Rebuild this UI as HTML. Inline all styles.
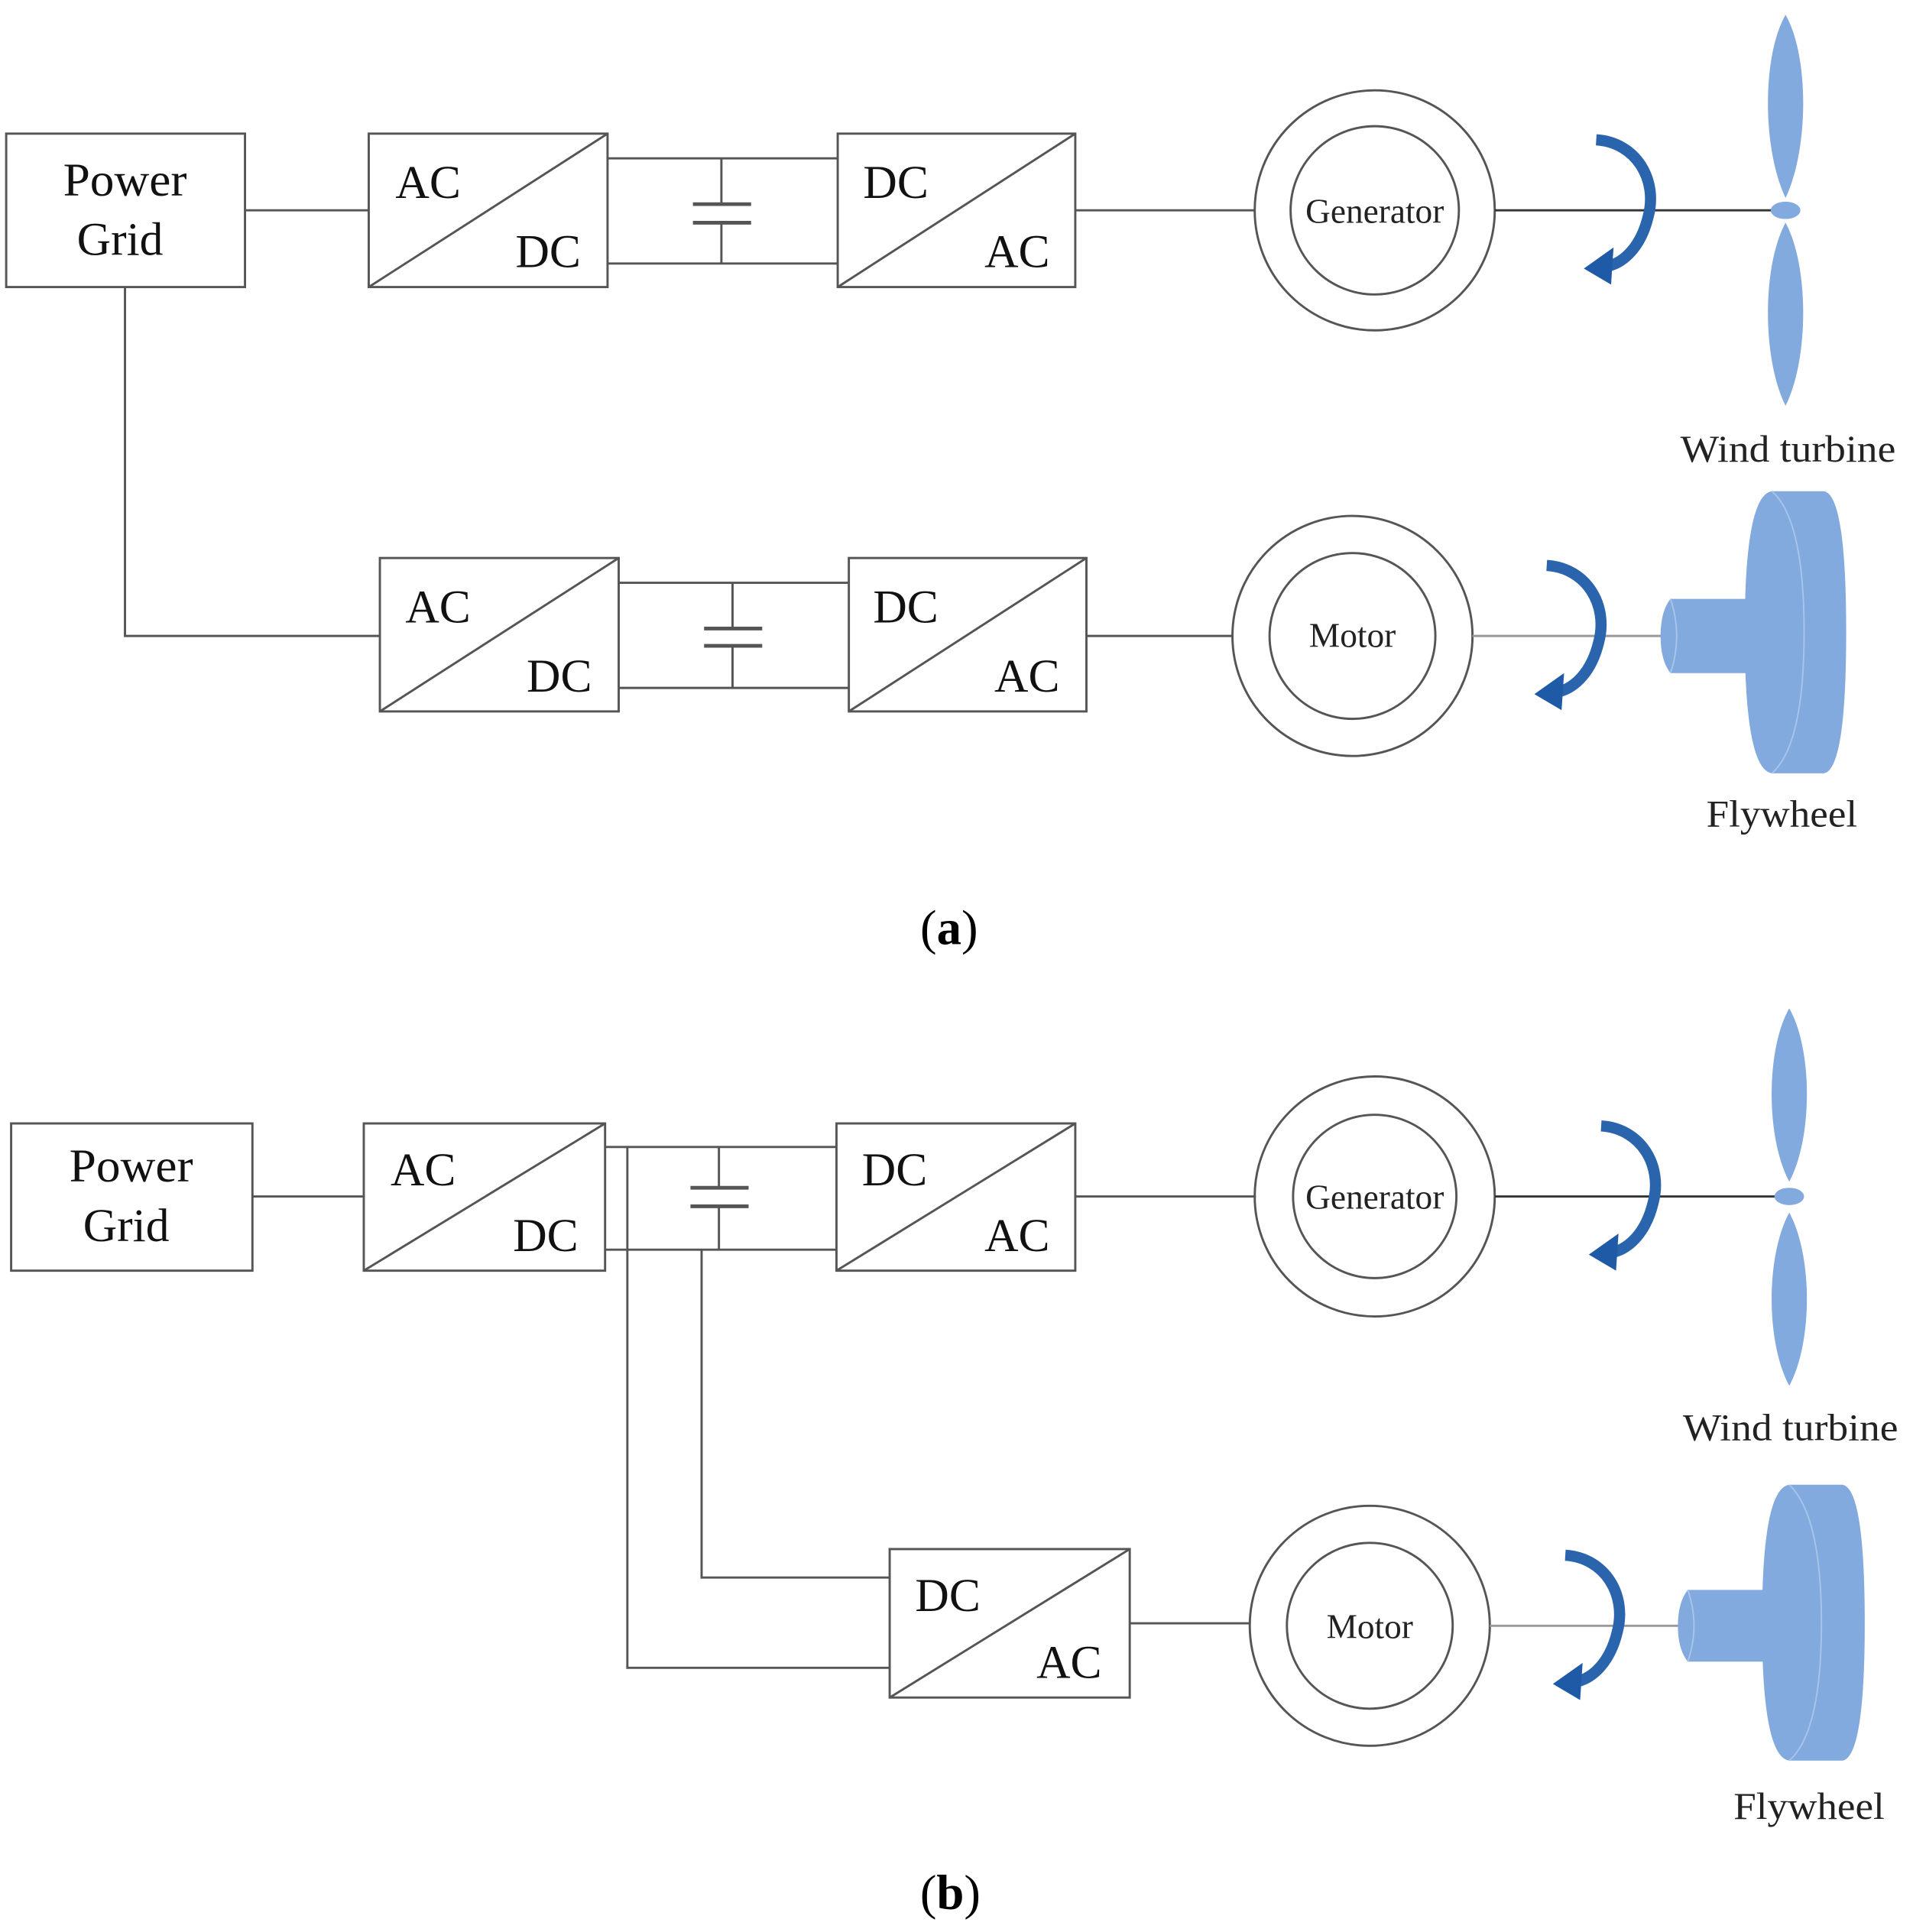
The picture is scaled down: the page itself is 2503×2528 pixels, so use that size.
<!DOCTYPE html>
<html><head><meta charset="utf-8"><style>html,body{margin:0;padding:0;background:#fff}svg{display:block}</style></head>
<body>
<svg width="2503" height="2528" viewBox="0 0 1546 1561.5" preserveAspectRatio="none" xmlns="http://www.w3.org/2000/svg" font-family="Liberation Serif, serif">
<defs>
<g id="arr">
<path d="M-2,-57 C30,-55 48,-25 40,5 C34,30 20,42 8,45" fill="none" stroke="#2a64ad" stroke-width="9"/>
<polygon points="-12,47 12,30 10,60" fill="#1f5aa6"/>
</g>
</defs>
<g stroke="#555" stroke-width="1.8" fill="none">
<rect x="5" y="108" width="193" height="124"/>
<line x1="198" y1="170" x2="298" y2="170"/>
<rect x="298" y="108" width="193" height="124"/><line x1="298" y1="232" x2="491" y2="108"/>
<line x1="491" y1="128" x2="677" y2="128"/><line x1="491" y1="213" x2="677" y2="213"/>
<line x1="583" y1="128" x2="583" y2="165"/><line x1="583" y1="180" x2="583" y2="213"/>
<line x1="560" y1="165" x2="607" y2="165" stroke-width="3"/><line x1="560" y1="180" x2="607" y2="180" stroke-width="3"/>
<rect x="677" y="108" width="192" height="124"/><line x1="677" y1="232" x2="869" y2="108"/>
<line x1="869" y1="170" x2="1014" y2="170"/>
<circle cx="1111" cy="170" r="97"/><circle cx="1111" cy="170" r="68"/>
<line x1="1208" y1="170" x2="1443" y2="170" stroke="#333"/>
<polyline points="101,232 101,514 307,514"/>
<rect x="307" y="451" width="193" height="124"/><line x1="307" y1="575" x2="500" y2="451"/>
<line x1="500" y1="471" x2="686" y2="471"/><line x1="500" y1="556" x2="686" y2="556"/>
<line x1="592" y1="471" x2="592" y2="508"/><line x1="592" y1="522" x2="592" y2="556"/>
<line x1="569" y1="508" x2="616" y2="508" stroke-width="3"/><line x1="569" y1="522" x2="616" y2="522" stroke-width="3"/>
<rect x="686" y="451" width="192" height="124"/><line x1="686" y1="575" x2="878" y2="451"/>
<line x1="878" y1="514" x2="996" y2="514"/>
<circle cx="1093" cy="514" r="97"/><circle cx="1093" cy="514" r="67"/>
<line x1="1190" y1="514" x2="1343" y2="514" stroke="#999"/>
<rect x="9" y="908" width="195" height="119"/>
<line x1="204" y1="967" x2="294" y2="967"/>
<rect x="294" y="908" width="195" height="119"/><line x1="294" y1="1027" x2="489" y2="908"/>
<line x1="489" y1="927" x2="676" y2="927"/><line x1="489" y1="1010" x2="676" y2="1010"/>
<line x1="581" y1="927" x2="581" y2="960"/><line x1="581" y1="975" x2="581" y2="1010"/>
<line x1="558" y1="960" x2="605" y2="960" stroke-width="3"/><line x1="558" y1="975" x2="605" y2="975" stroke-width="3"/>
<rect x="676" y="908" width="193" height="119"/><line x1="676" y1="1027" x2="869" y2="908"/>
<line x1="869" y1="967" x2="1015" y2="967"/>
<circle cx="1111" cy="967" r="97"/><circle cx="1111" cy="967" r="66"/>
<line x1="1208" y1="967" x2="1446" y2="967" stroke="#333"/>
<polyline points="507,927 507,1348 719,1348"/>
<polyline points="567,1010 567,1275 719,1275"/>
<rect x="719" y="1252" width="194" height="120"/><line x1="719" y1="1372" x2="913" y2="1252"/>
<line x1="913" y1="1312" x2="1010" y2="1312"/>
<circle cx="1107" cy="1314" r="97"/><circle cx="1107" cy="1314" r="67"/>
<line x1="1204" y1="1314" x2="1357" y2="1314" stroke="#999"/>
</g>
<g fill="#82aade">
<path d="M1443,12 C1462,45 1462,120 1443,160 C1424,120 1424,45 1443,12Z"/>
<path d="M1443,180 C1462,215 1462,290 1443,328 C1424,290 1424,215 1443,180Z"/>
<ellipse cx="1443" cy="170" rx="12" ry="7"/>
<path d="M1446,815 C1465,848 1465,920 1446,955 C1427,920 1427,848 1446,815Z"/>
<path d="M1446,980 C1465,1015 1465,1085 1446,1120 C1427,1085 1427,1015 1446,980Z"/>
<ellipse cx="1446" cy="967" rx="12" ry="7"/>
<path d="M1432,397 H1474 Q1492,400 1492,511 Q1492,622 1474,625 H1432 Q1410,622 1410,511 Q1410,400 1432,397Z"/>
<path d="M1350,484 H1427 V544 H1350 Q1342,534 1342,514 Q1342,494 1350,484Z"/>
<path d="M1446,1200 H1489 Q1507,1203 1507,1312 Q1507,1420 1489,1423 H1446 Q1424,1420 1424,1312 Q1424,1203 1446,1200Z"/>
<path d="M1364,1285 H1441 V1343 H1364 Q1356,1333 1356,1314 Q1356,1295 1364,1285Z"/>
</g>
<g fill="none" stroke="#a8c4ea" stroke-width="1.2">
<path d="M1432,397 Q1458,420 1458,511 Q1458,602 1432,625"/>
<path d="M1446,1200 Q1472,1225 1472,1312 Q1472,1400 1446,1423"/>
<path d="M1350,484 Q1360,514 1350,544"/>
<path d="M1364,1285 Q1374,1314 1364,1343"/>
</g>
<use href="#arr" transform="translate(1292,170)"/>
<use href="#arr" transform="translate(1252,514)"/>
<use href="#arr" transform="translate(1296,967)"/>
<use href="#arr" transform="translate(1267,1314)"/>
<g fill="#111" font-size="38" text-anchor="middle">
<text x="101" y="158" textLength="100" lengthAdjust="spacingAndGlyphs">Power</text>
<text x="97" y="206">Grid</text>
<text x="346" y="160">AC</text><text x="443" y="216">DC</text>
<text x="724" y="160">DC</text><text x="822" y="216">AC</text>
<text x="354" y="503">AC</text><text x="452" y="559">DC</text>
<text x="732" y="503">DC</text><text x="830" y="559">AC</text>
<text x="106" y="955" textLength="100" lengthAdjust="spacingAndGlyphs">Power</text>
<text x="102" y="1003">Grid</text>
<text x="342" y="958">AC</text><text x="441" y="1011">DC</text>
<text x="723" y="958">DC</text><text x="822" y="1011">AC</text>
<text x="766" y="1302">DC</text><text x="864" y="1356">AC</text>
</g>
<g fill="#222" font-size="28" text-anchor="middle">
<text x="1111" y="180">Generator</text>
<text x="1093" y="523">Motor</text>
<text x="1111" y="977">Generator</text>
<text x="1107" y="1324">Motor</text>
</g>
<g fill="#222" font-size="31" text-anchor="middle">
<text x="1445" y="373" textLength="174" lengthAdjust="spacingAndGlyphs">Wind turbine</text>
<text x="1440" y="668" textLength="122" lengthAdjust="spacingAndGlyphs">Flywheel</text>
<text x="1447" y="1164" textLength="174" lengthAdjust="spacingAndGlyphs">Wind turbine</text>
<text x="1462" y="1470" textLength="122" lengthAdjust="spacingAndGlyphs">Flywheel</text>
</g>
<g fill="#000" font-size="40" text-anchor="middle">
<text x="767" y="763">(<tspan font-weight="bold">a</tspan>)</text>
<text x="768" y="1543">(<tspan font-weight="bold">b</tspan>)</text>
</g>
</svg>
</body></html>
